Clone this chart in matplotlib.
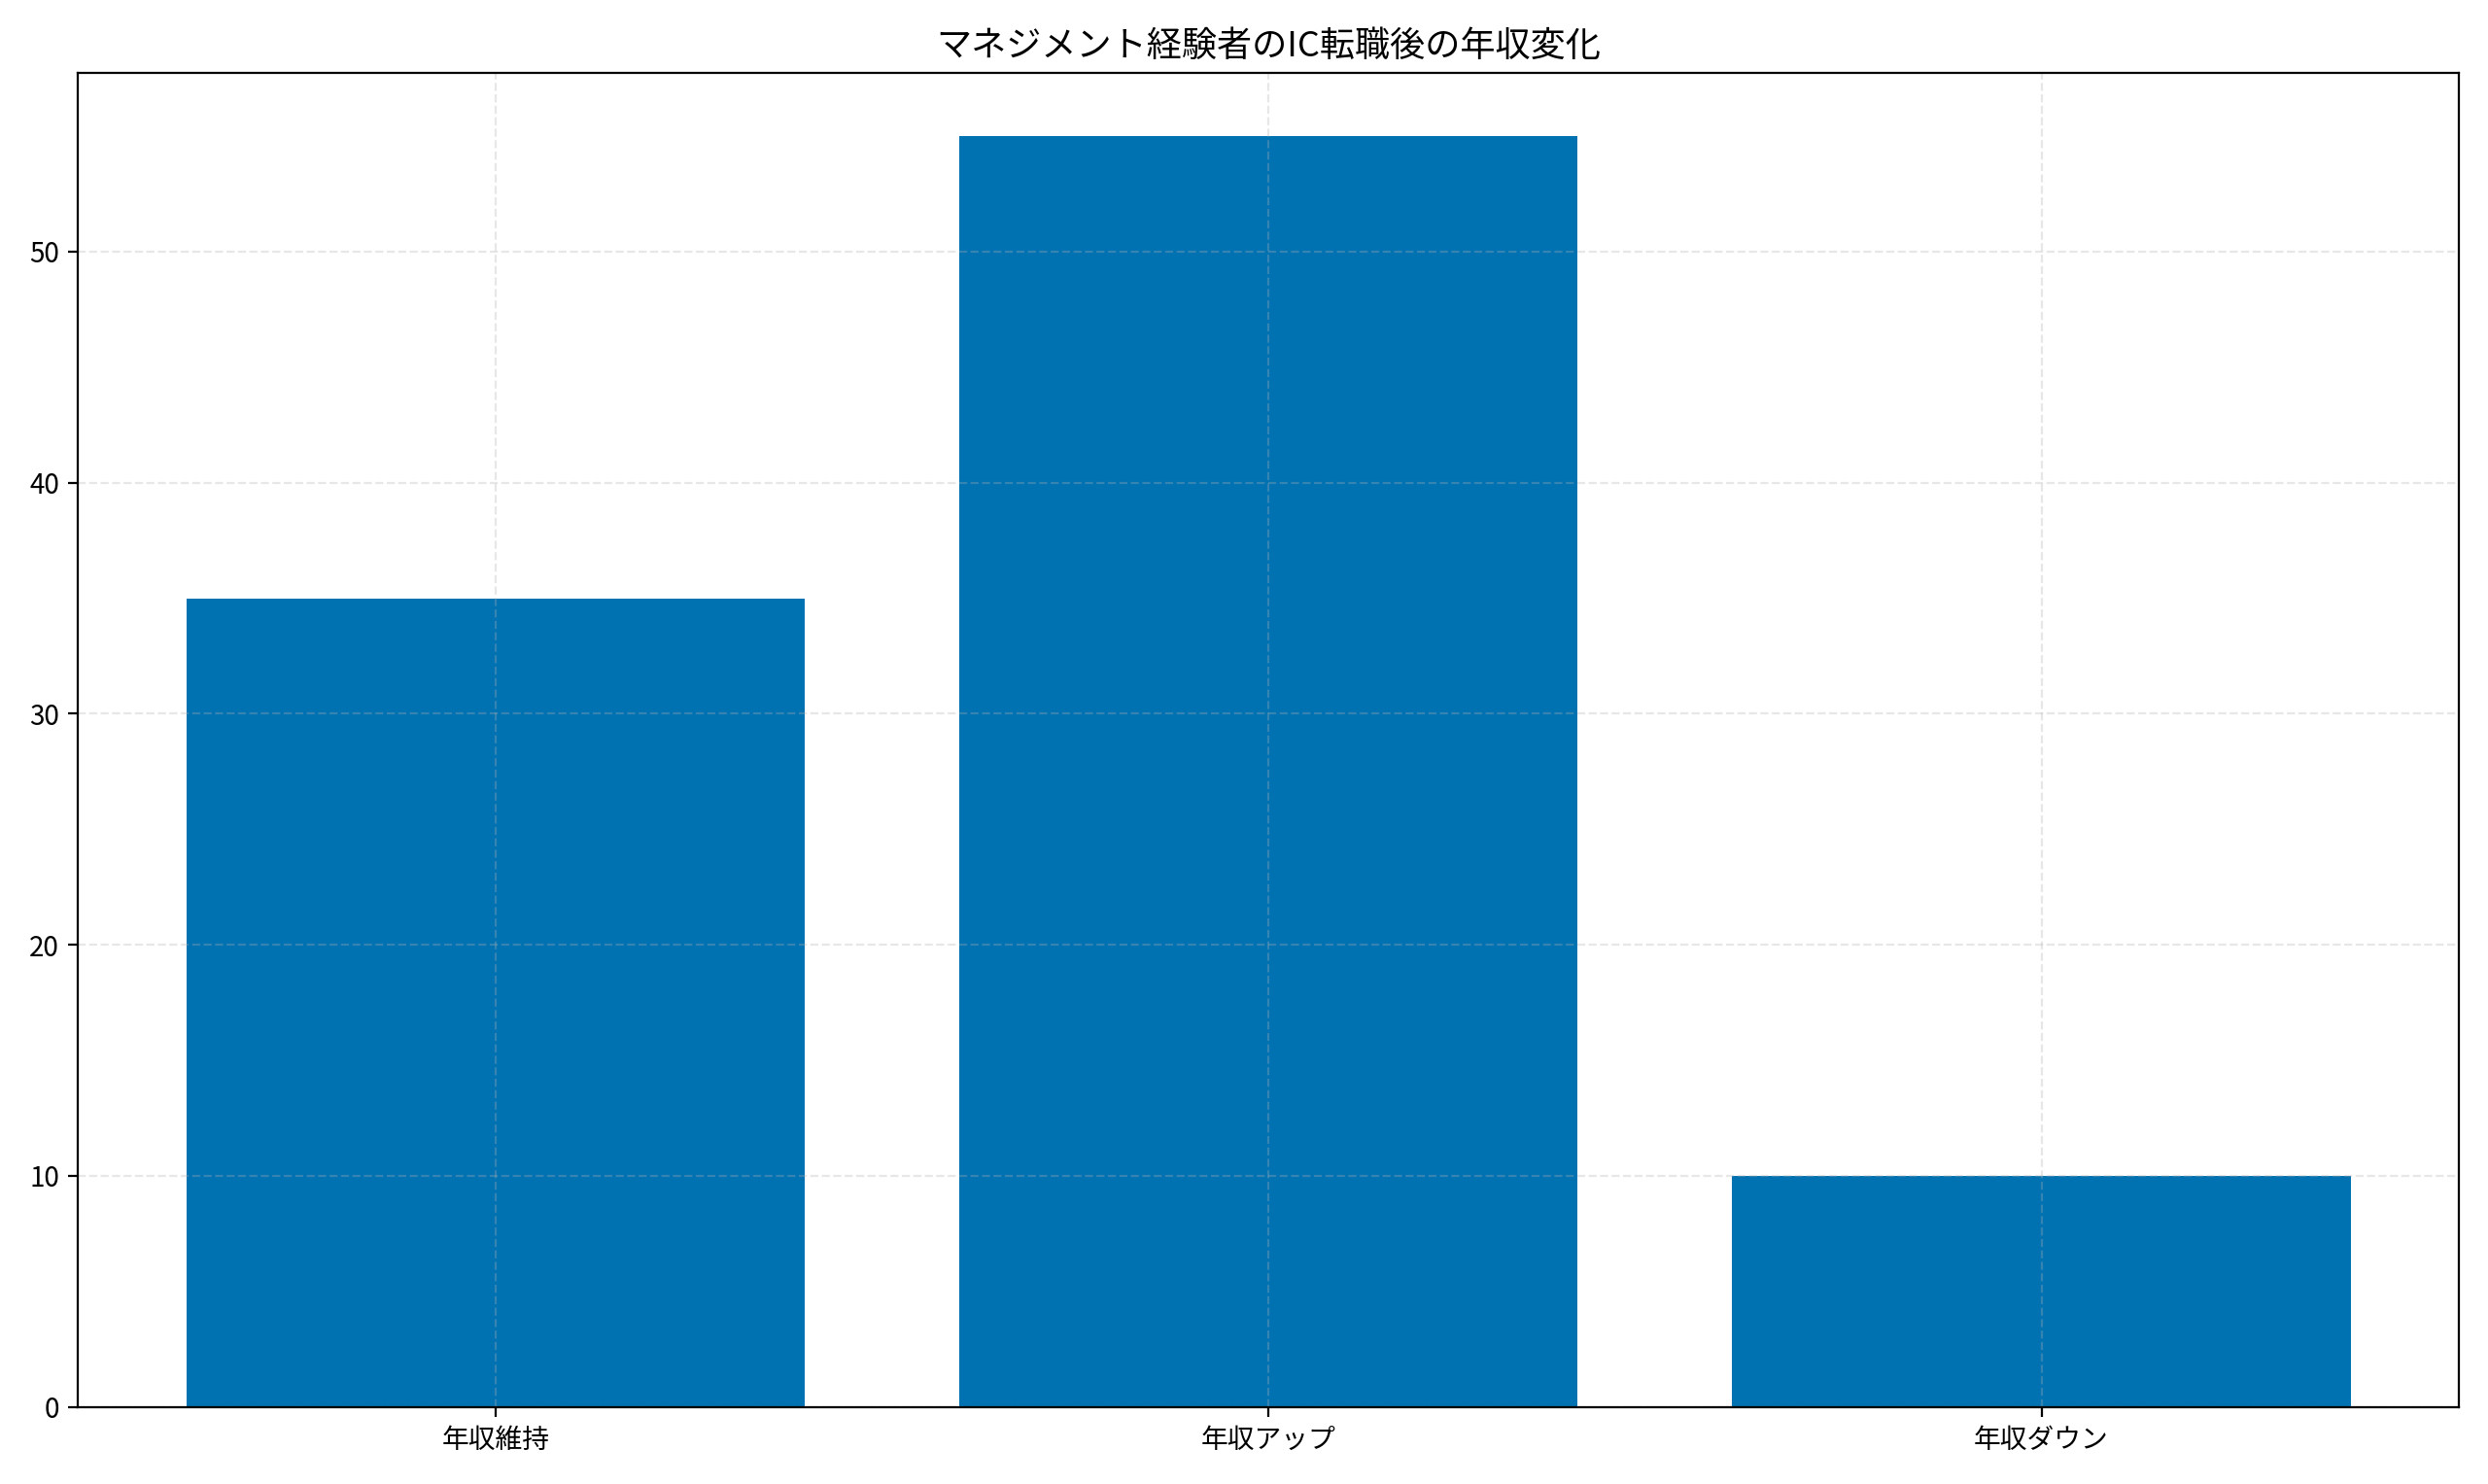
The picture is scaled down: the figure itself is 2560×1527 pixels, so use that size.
import matplotlib
matplotlib.use("Agg")
import matplotlib.pyplot as plt

plt.rcParams["font.family"] = ["Noto Sans CJK JP", "DejaVu Sans"]

categories = ["年収維持", "年収アップ", "年収ダウン"]
values = [35, 55, 10]

fig, ax = plt.subplots(figsize=(12.8, 7.635), dpi=200)
ax.bar(categories, values, color="#0072B2")
ax.set_title("マネジメント経験者のIC転職後の年収変化", fontsize=13)
ax.grid(True, linestyle="--", alpha=0.3)
ax.set_xlim(-0.5 - 0.04, 2.5 + 0.04)
fig.tight_layout()
fig.savefig("out.png", dpi=200)
